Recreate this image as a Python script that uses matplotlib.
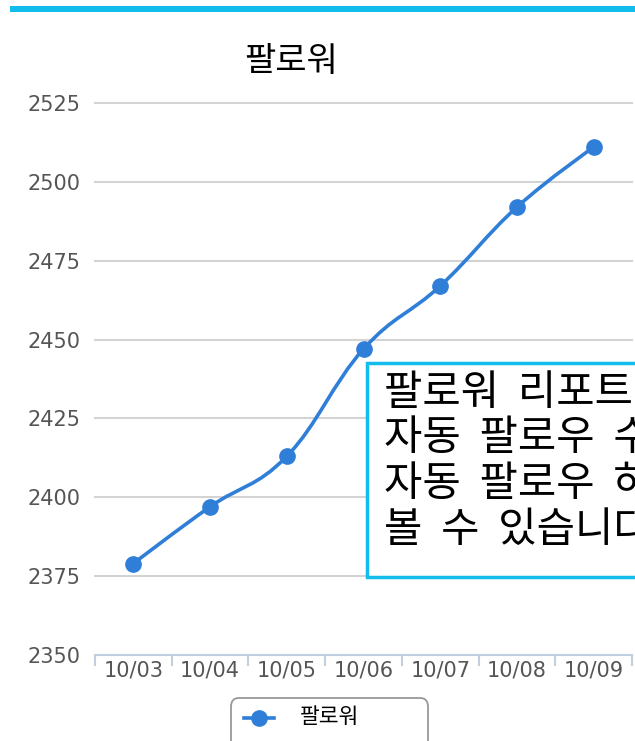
import numpy as np
import matplotlib
matplotlib.use('Agg')
from matplotlib import pyplot as plt
from matplotlib.path import Path
from matplotlib.patches import PathPatch, Rectangle, FancyBboxPatch
from matplotlib.lines import Line2D

plt.rcParams['font.family'] = ['Noto Sans CJK KR', 'DejaVu Sans']

# chart data
dates = ['10/03', '10/04', '10/05', '10/06', '10/07', '10/08', '10/09']
followers = [2379, 2397, 2413, 2447, 2467, 2492, 2511]
y_ticks = [2350, 2375, 2400, 2425, 2450, 2475, 2500, 2525]
series_name = '팔로워'
# the note is cut off by the right edge in the source picture
note_lines = ['팔로워 리포트', '자동 팔로우 수', '자동 팔로우 하', '볼 수 있습니다']

LINE_COLOR = '#2f7ed8'
CYAN = '#12bdec'


def spline_path(xs, ys, smoothing=1.5):
    # smooth curve through the points (bezier control points like a "spline" series)
    denom = smoothing + 1
    n = len(xs)
    verts = [(xs[0], ys[0])]
    codes = [Path.MOVETO]
    right_prev = (xs[0], ys[0])
    for i in range(1, n):
        x, y = xs[i], ys[i]
        if i < n - 1:
            lx = (smoothing * x + xs[i - 1]) / denom
            ly = (smoothing * y + ys[i - 1]) / denom
            rx = (smoothing * x + xs[i + 1]) / denom
            ry = (smoothing * y + ys[i + 1]) / denom
            corr = ((ry - ly) * (rx - x)) / (rx - lx) + y - ry
            ly += corr
            ry += corr
            if ly > max(ys[i - 1], y) or ly < min(ys[i - 1], y):
                ly = max(ys[i - 1], y) if ly > max(ys[i - 1], y) else min(ys[i - 1], y)
                ry = 2 * y - ly
            if ry > max(ys[i + 1], y) or ry < min(ys[i + 1], y):
                ry = max(ys[i + 1], y) if ry > max(ys[i + 1], y) else min(ys[i + 1], y)
                ly = 2 * y - ry
        else:
            lx, ly = x, y
            rx, ry = x, y
        verts += [right_prev, (lx, ly), (x, y)]
        codes += [Path.CURVE4] * 3
        right_prev = (rx, ry)
    return Path(verts, codes)


fig = plt.figure(figsize=(6.35, 7.41), dpi=100)

# cyan strip at the top
fig.patches.append(Rectangle((10 / 635, 1 - 12 / 741), 1, 6 / 741, transform=fig.transFigure,
                             facecolor=CYAN, edgecolor='none', zorder=0))

ax = fig.add_axes([95 / 635, 1 - 655 / 741, 537 / 635, 552 / 741])
x = np.arange(len(dates))
ax.set_xlim(-0.5, len(dates) - 0.5)
ax.set_ylim(y_ticks[0], y_ticks[-1])

for yv in y_ticks[1:]:
    ax.axhline(yv, color='#d3d3d3', lw=1.5, zorder=1, clip_on=False)

ax.add_patch(PathPatch(spline_path(list(x), followers), facecolor='none',
                       edgecolor=LINE_COLOR, lw=2.6, zorder=3))
ax.plot(x, followers, 'o', color=LINE_COLOR, ms=11, zorder=4)

for s in ['top', 'right', 'left']:
    ax.spines[s].set_visible(False)
ax.spines['bottom'].set_color('#c0d0e0')
ax.spines['bottom'].set_linewidth(1.5)

ax.set_yticks(y_ticks)
ax.set_yticklabels([str(v) for v in y_ticks], fontsize=15, color='#555555')
ax.tick_params(axis='y', length=0, pad=10.5)
ax.set_xticks(x)
ax.set_xticklabels(dates, fontsize=15, color='#555555')
ax.tick_params(axis='x', length=0, pad=4)
ax.set_xticks(np.arange(len(dates) + 1) - 0.5, minor=True)
ax.tick_params(axis='x', which='minor', length=8, width=1.5, color='#c0d0e0')
for lbl in ax.get_yticklabels():
    lbl.set_family(['DejaVu Sans'])
for lbl in ax.get_xticklabels():
    lbl.set_family(['DejaVu Sans'])

fig.text(291 / 635, 1 - 61 / 741, series_name, fontsize=24.5, ha='center', va='center')

# note box (runs off the right edge)
fig.patches.append(Rectangle((367 / 635, 1 - 577 / 741), 300 / 635, 214 / 741,
                             transform=fig.transFigure, facecolor='white',
                             edgecolor=CYAN, lw=2.5, zorder=5))
for i, line in enumerate(note_lines):
    # wider word gaps, as in the source font
    fig.text(384 / 635, 1 - (393 + i * 45.7) / 741, line.replace(' ', '  '), fontsize=30,
             ha='left', va='center', zorder=6)

# legend box
fig.patches.append(FancyBboxPatch((231 / 635, 1 - 760 / 741), 197 / 635, 62 / 741,
                                  boxstyle='round,pad=0,rounding_size=0.012',
                                  transform=fig.transFigure, facecolor='white',
                                  edgecolor='#999999', lw=1.3, zorder=5))
fig.lines.append(Line2D([244 / 635, 274 / 635], [1 - 718 / 741] * 2, transform=fig.transFigure,
                        color=LINE_COLOR, lw=2.6, marker=None, zorder=6))
fig.lines.append(Line2D([259 / 635], [1 - 718 / 741], transform=fig.transFigure,
                        color=LINE_COLOR, marker='o', ms=11, zorder=7))
fig.text(300 / 635, 1 - 717 / 741, series_name, fontsize=15.5, ha='left', va='center', zorder=7)

fig.savefig('out.png', dpi=100)
